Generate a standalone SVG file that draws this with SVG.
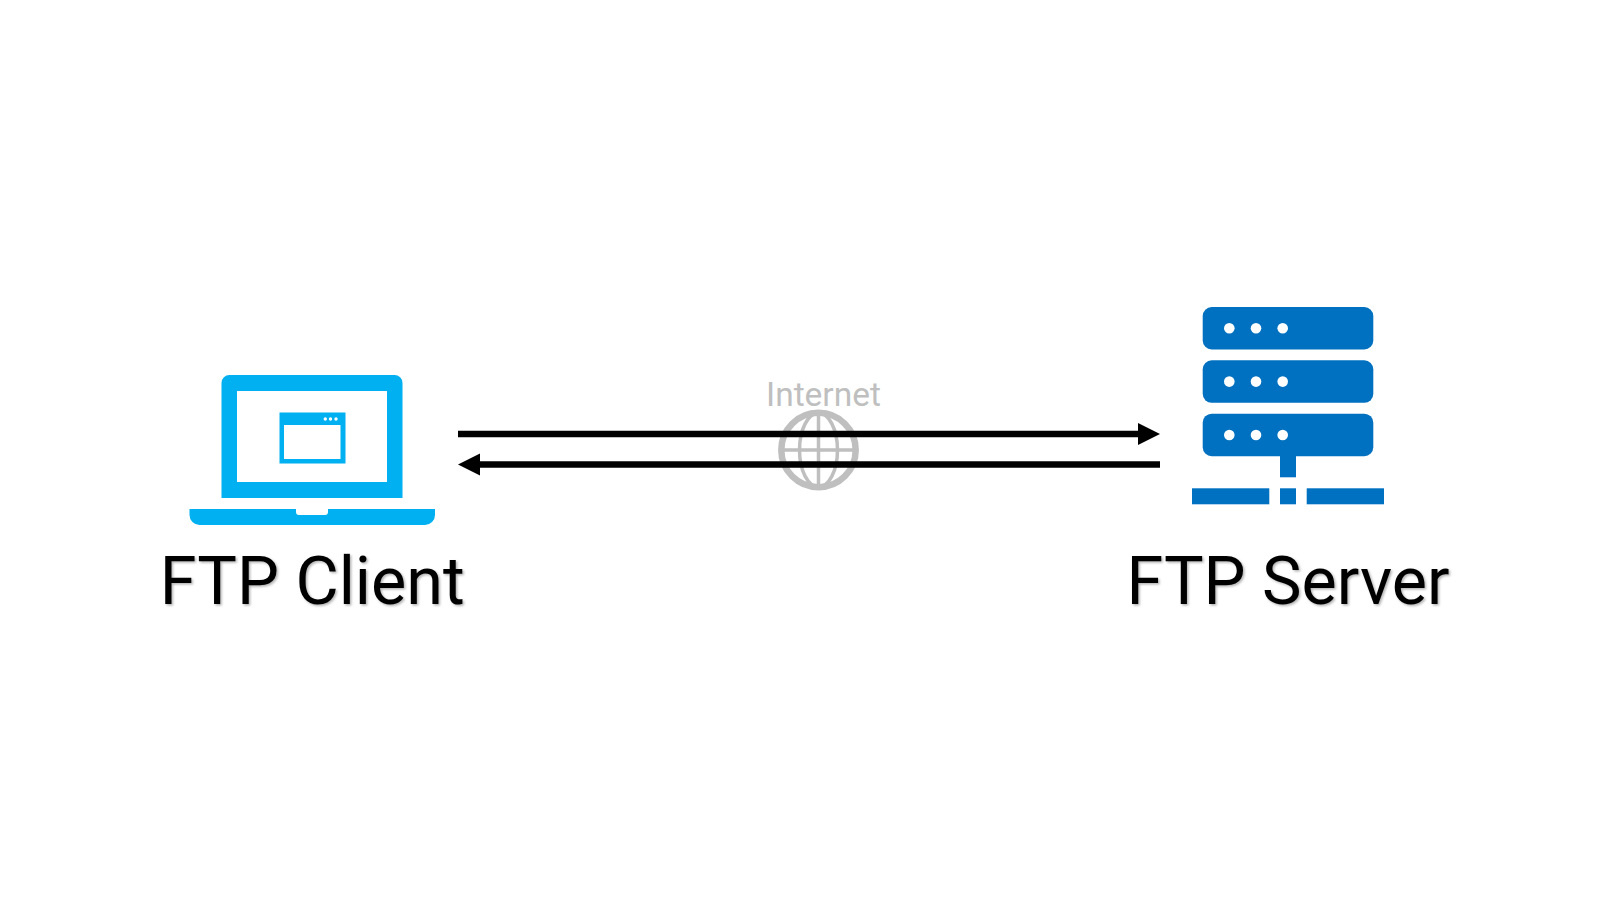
<svg xmlns="http://www.w3.org/2000/svg" width="1600" height="900" viewBox="0 0 1600 900">
<style>
.label{font-family:Roboto,"Liberation Sans",sans-serif;font-size:66.5px;fill:#000;text-anchor:middle;filter:url(#soft)}
.laptop{fill:#00b0f0}
.server{fill:#0070c0}
.hole{fill:#fff}
.conn{stroke:#000;stroke-width:6.5;fill:none}
.globe{fill:none;stroke:#bfbfbf;stroke-width:3.500}
.rim{stroke-width:6.500}
</style>
<defs>
<filter id="soft" x="-5%" y="-10%" width="110%" height="125%"><feDropShadow dx="1.5" dy="1.5" stdDeviation="1.2" flood-color="#000" flood-opacity="0.3"/></filter>
</defs>
<rect width="1600" height="900" fill="#fff"/>
<g id="internet">
<text x="823.500" y="405.500" font-family="Roboto,'Liberation Sans',sans-serif" font-size="33.500" fill="#bfbfbf" text-anchor="middle">Internet</text>
<circle class="globe rim" cx="818.500" cy="450" r="37.200"/>
<ellipse class="globe" cx="818.500" cy="450" rx="19" ry="37"/>
<path class="globe" d="M818.500 413V487M781.500 450H855.500"/>
</g>
<g id="ftp-client">
<path class="laptop" fill-rule="evenodd" d="M229.500 375H394.500a8 8 0 0 1 8 8V498H221.500V383a8 8 0 0 1 8-8ZM237 391V482H387V391Z"/>
<path class="laptop" d="M189.500 509H296V512a3 3 0 0 0 3 3H325a3 3 0 0 0 3-3V509H435V515a10 10 0 0 1-10 10H199.500a10 10 0 0 1-10-10Z"/>
<path class="laptop" fill-rule="evenodd" d="M279.500 412.500H345.500V463.500H279.500ZM284 425V459H340.500V425Z"/>
<g class="hole"><circle cx="325.300" cy="419" r="1.700"/><circle cx="330.500" cy="419" r="1.700"/><circle cx="336" cy="419" r="1.700"/></g>
<text class="label" x="312.300" y="603.500">FTP Client</text>
</g>
<g id="ftp-server">
<rect class="server" x="1202.700" y="307" width="170.600" height="42.500" rx="9"/>
<rect class="server" x="1202.700" y="360.300" width="170.600" height="42.500" rx="9"/>
<rect class="server" x="1202.700" y="413.700" width="170.600" height="42.500" rx="9"/>
<g class="hole">
<circle cx="1229.300" cy="328.300" r="5.300"/><circle cx="1256" cy="328.300" r="5.300"/><circle cx="1282.700" cy="328.300" r="5.300"/>
<circle cx="1229.300" cy="381.600" r="5.300"/><circle cx="1256" cy="381.600" r="5.300"/><circle cx="1282.700" cy="381.600" r="5.300"/>
<circle cx="1229.300" cy="435" r="5.300"/><circle cx="1256" cy="435" r="5.300"/><circle cx="1282.700" cy="435" r="5.300"/>
</g>
<rect class="server" x="1280" y="456" width="16" height="21.300"/>
<rect class="server" x="1192" y="488.300" width="77.300" height="16"/>
<rect class="server" x="1280" y="488.300" width="16" height="16"/>
<rect class="server" x="1306.700" y="488.300" width="77.300" height="16"/>
<text class="label" x="1288" y="603.500">FTP Server</text>
</g>
<g id="connectors">
<path class="conn" d="M458 434H1140" />
<path d="M1138 423L1160 434L1138 445Z" fill="#000"/>
<path class="conn" d="M1160 464.500H478" />
<path d="M480 453.500L458 464.500L480 475.500Z" fill="#000"/>
</g>
</svg>
